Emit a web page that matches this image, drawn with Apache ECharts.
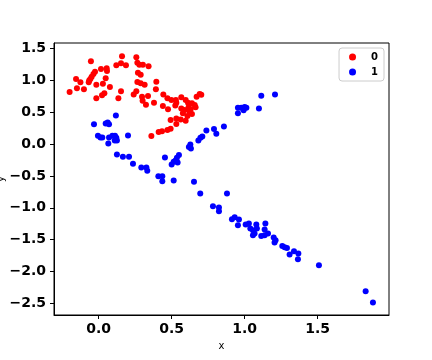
<!DOCTYPE html>
<html>
<head>
<meta charset="utf-8">
<script src="https://cdn.jsdelivr.net/npm/echarts@6/dist/echarts.min.js"></script>
<style>
  * { margin: 0; padding: 0; }
  body { background: #fff; }
  #main { width: 432px; height: 360px; }
</style>
</head>
<body>
<!--echarts的容器-->
<div id="main"></div>
<script>
// class 0 (red) points, [x, y]
var class0 = [
  [-0.199, 0.818], [-0.155, 1.022], [-0.149, 0.876], [-0.125, 0.970], [-0.101, 0.860],
  [-0.068, 0.970], [-0.065, 0.998], [-0.057, 1.022], [-0.048, 1.058], [-0.036, 1.101],
  [-0.025, 1.137], [-0.053, 1.300], [-0.016, 0.932], [-0.016, 0.719], [0.016, 1.179],
  [0.029, 0.948], [0.023, 0.766], [0.039, 0.797], [0.048, 1.033], [0.055, 1.190],
  [0.057, 1.148], [0.077, 0.896], [0.121, 1.237], [0.153, 1.269], [0.160, 1.379],
  [0.187, 1.237], [0.153, 0.829], [0.135, 0.719], [0.240, 0.781], [0.258, 1.363],
  [0.265, 1.278], [0.279, 1.247], [0.303, 1.247], [0.342, 1.222], [0.269, 1.121],
  [0.288, 1.090], [0.265, 0.975], [0.288, 0.954], [0.315, 0.932], [0.395, 0.980],
  [0.392, 0.860], [0.258, 0.829], [0.297, 0.744], [0.338, 0.755], [0.301, 0.681],
  [0.324, 0.618], [0.379, 0.649], [0.443, 0.781], [0.471, 0.719], [0.498, 0.692],
  [0.529, 0.692], [0.532, 0.649], [0.566, 0.734], [0.596, 0.692], [0.612, 0.649],
  [0.639, 0.640], [0.671, 0.744], [0.692, 0.786], [0.703, 0.775], [0.475, 0.546],
  [0.525, 0.608], [0.566, 0.561], [0.589, 0.535], [0.616, 0.577], [0.630, 0.546],
  [0.658, 0.613], [0.664, 0.577], [0.577, 0.483], [0.608, 0.440], [0.639, 0.472],
  [0.562, 0.388], [0.596, 0.366], [0.493, 0.377], [0.532, 0.314], [0.493, 0.241],
  [0.471, 0.220], [0.434, 0.200], [0.411, 0.189], [0.361, 0.126], [0.440, 0.597],
  [0.532, 0.404], [0.623, 0.508]
];
// class 1 (blue) points, [x, y]
var class1 = [
  [-0.032, 0.310], [0.048, 0.325], [0.062, 0.341], [0.071, 0.310], [0.118, 0.451],
  [-0.005, 0.130], [0.012, 0.105], [0.025, 0.105], [0.071, 0.105], [0.094, 0.130],
  [0.112, 0.130], [0.121, 0.099], [0.110, 0.058], [0.125, 0.058], [0.066, 0.011],
  [0.201, 0.137], [0.125, -0.162], [0.166, -0.200], [0.208, -0.200], [0.235, -0.310],
  [0.292, -0.366], [0.327, -0.366], [0.333, -0.420], [0.409, -0.503], [0.436, -0.503],
  [0.436, -0.582], [0.514, -0.571], [0.653, -0.593], [0.696, -0.775], [0.879, -0.775],
  [0.783, -0.975], [0.824, -0.995], [0.824, -1.053], [0.913, -1.179], [0.932, -1.148],
  [0.961, -1.184], [0.954, -1.274], [1.007, -1.263], [1.029, -1.247], [1.039, -1.325],
  [1.057, -1.352], [1.080, -1.263], [1.084, -1.325], [1.068, -1.404], [1.057, -1.431],
  [1.114, -1.442], [1.137, -1.431], [1.160, -1.404], [1.137, -1.341], [1.142, -1.247],
  [1.199, -1.467], [1.212, -1.509], [1.205, -1.546], [1.258, -1.599], [1.274, -1.619],
  [1.290, -1.630], [1.308, -1.734], [1.338, -1.682], [1.368, -1.719], [1.365, -1.808],
  [1.509, -1.903], [1.829, -2.311], [1.879, -2.489], [0.454, -0.209], [0.500, -0.319],
  [0.514, -0.278], [0.527, -0.256], [0.536, -0.215], [0.550, -0.173], [0.541, -0.288],
  [0.628, -0.005], [0.618, -0.047], [0.632, -0.068], [0.683, 0.058], [0.697, 0.099],
  [0.710, 0.121], [0.738, 0.215], [0.790, 0.236], [0.806, 0.162], [0.858, 0.278],
  [0.954, 0.571], [0.977, 0.571], [1.000, 0.582], [1.012, 0.571], [0.993, 0.530],
  [0.954, 0.483], [1.098, 0.561], [1.114, 0.759], [1.208, 0.781]
];
var classNames = ['0', '1'];
var xTicks = [0.0, 0.5, 1.0, 1.5];
var yTicks = [-2.5, -2.0, -1.5, -1.0, -0.5, 0.0, 0.5, 1.0, 1.5];

var chart = echarts.init(document.getElementById('main'));

// 刻度标签：一位小数，负号用 U+2212
function tickFmt(v) {
  return v.toFixed(1).replace('-', '\u2212');
}

var labelStyle = {
  fontFamily: 'DejaVu Sans',
  fontWeight: 'bold',
  fontSize: 14,
  color: '#000'
};

chart.setOption({
  animation: false,
  backgroundColor: '#fff',
  grid: {
    left: 54,
    right: 43,
    top: 43,
    bottom: 45,
    containLabel: false,
    outerBoundsMode: 'none',   // v6: 不要自动缩进网格
    show: true,
    borderColor: '#000',
    borderWidth: 1
  },
  legend: {
    data: classNames,
    orient: 'vertical',
    right: 48,
    top: 48,
    padding: [3, 6, 3, 10],
    itemGap: 3,
    itemWidth: 7,
    itemHeight: 7,
    icon: 'circle',
    backgroundColor: '#fff',
    borderColor: '#ccc',
    borderWidth: 1,
    borderRadius: 3,
    textStyle: {
      fontFamily: 'DejaVu Sans',
      fontWeight: 'bold',
      fontSize: 10,
      color: '#000',
      lineHeight: 12,
      padding: [0, 0, 0, 10]
    }
  },
  xAxis: {
    type: 'value',
    min: -0.306,
    max: 1.989,
    name: 'x',
    nameLocation: 'middle',
    nameGap: 26,
    nameMoveOverlap: false,
    nameTextStyle: { fontFamily: 'DejaVu Sans', fontSize: 10, color: '#000' },
    axisLine: { show: true, onZero: false, lineStyle: { color: '#000', width: 1 } },
    axisTick: { show: true, length: 4, customValues: xTicks, lineStyle: { color: '#000' } },
    axisLabel: Object.assign({ margin: 7, customValues: xTicks, formatter: tickFmt }, labelStyle),
    splitLine: { show: false }
  },
  yAxis: {
    type: 'value',
    min: -2.684,
    max: 1.588,
    name: 'y',
    nameLocation: 'middle',
    nameRotate: 90,
    nameGap: 48,
    nameMoveOverlap: false,
    nameTextStyle: { fontFamily: 'DejaVu Sans', fontSize: 10, color: '#000' },
    axisLine: { show: true, onZero: false, lineStyle: { color: '#000', width: 1 } },
    axisTick: { show: true, length: 4, customValues: yTicks, lineStyle: { color: '#000' } },
    axisLabel: Object.assign({ margin: 8, customValues: yTicks, formatter: tickFmt }, labelStyle),
    splitLine: { show: false }
  },
  series: [
    {
      name: classNames[0],
      type: 'scatter',
      symbolSize: 6,
      itemStyle: { color: '#ff0000', opacity: 1 },
      data: class0
    },
    {
      name: classNames[1],
      type: 'scatter',
      symbolSize: 6,
      itemStyle: { color: '#0000ff', opacity: 1 },
      data: class1
    }
  ]
});
</script>
</body>
</html>
